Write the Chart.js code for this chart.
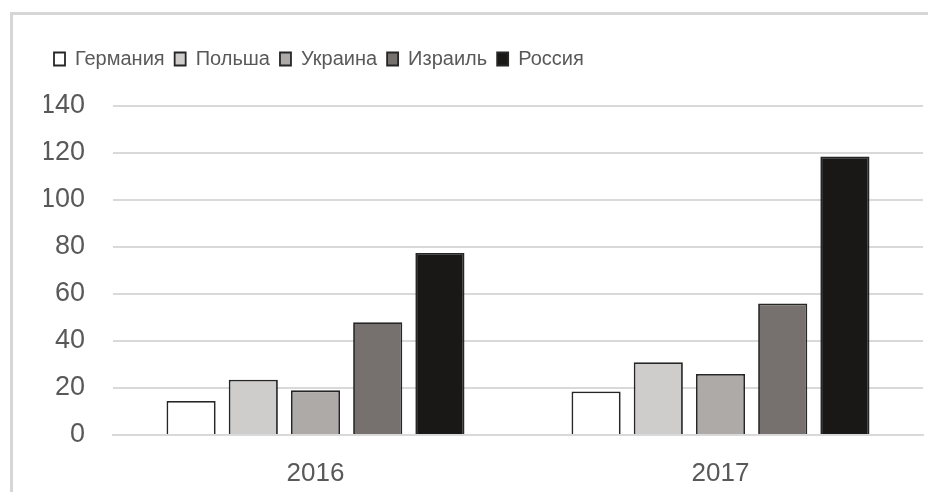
<!DOCTYPE html>
<html>
<head>
<meta charset="utf-8">
<script src="https://cdn.jsdelivr.net/npm/chart.js@4/dist/chart.umd.min.js"></script>
<style>
  html, body { margin: 0; padding: 0; background: #fff; }
  #wrap { position: relative; width: 928px; height: 492px; overflow: hidden; }
  #frame { position: absolute; left: 10px; top: 12px; width: 940px; height: 500px;
           border-left: 3px solid #d6d6d6; border-top: 3px solid #d6d6d6; box-sizing: border-box; }
  #cv { position: absolute; left: 0; top: 0; }
</style>
</head>
<body>
<div id="wrap">
  <div id="frame"></div>
  <canvas id="cv" width="928" height="492"></canvas>
</div>
<script>
/* ── DATA ── */
var years = ['2016', '2017'];
var countries = ['Германия', 'Польша', 'Украина', 'Израиль', 'Россия'];
var germany = [14.5, 18.5];
var poland = [23.5, 31];
var ukraine = [19, 26];
var israel = [48, 56];
var russia = [77.5, 118.5];
var yTicks = [0, 20, 40, 60, 80, 100, 120, 140];

var fills = ['#ffffff', '#cfcdcc', '#adaaa8', '#76706e', '#1a1717'];
var series = [germany, poland, ukraine, israel, russia];

var datasets = series.map(function (vals, i) {
  return {
    label: countries[i],
    data: vals,
    backgroundColor: fills[i],
    borderColor: '#262626',
    borderWidth: 1.8,
    borderSkipped: 'bottom',
    barPercentage: 0.79,
    categoryPercentage: 0.768
  };
});

// fixed legend height so the plot top lands at the 140 line of the reference
var legendSpace = {
  id: 'legendSpace',
  beforeInit: function (chart) {
    var fit = chart.legend.fit;
    chart.legend.fit = function () {
      fit.bind(chart.legend)();
      this.height = 67;
    };
  }
};

new Chart(document.getElementById('cv'), {
  type: 'bar',
  data: { labels: years, datasets: datasets },
  plugins: [legendSpace],
  options: {
    responsive: false,
    animation: false,
    devicePixelRatio: 1,
    layout: { padding: { top: 39, left: 44, right: 5, bottom: 0 } },
    plugins: {
      tooltip: { enabled: false },
      legend: {
        position: 'top',
        align: 'start',
        labels: {
          boxWidth: 11,
          boxHeight: 13,
          padding: 10,
          color: '#595959',
          font: { family: '"Liberation Sans", sans-serif', size: 20 }
        }
      }
    },
    scales: {
      x: {
        afterFit: function (axis) { axis.height = 57; },
        grid: { display: false },
        border: { display: true, color: '#d9d9d9', width: 2 },
        ticks: {
          color: '#595959',
          padding: 15,
          font: { family: '"Liberation Sans", sans-serif', size: 26 }
        }
      },
      y: {
        min: 0,
        max: 140,
        afterBuildTicks: function (axis) {
          axis.ticks = yTicks.map(function (v) { return { value: v }; });
        },
        afterFit: function (axis) { axis.width = 69; },
        grid: { color: '#d9d9d9', lineWidth: 2, drawTicks: false },
        border: { display: false },
        ticks: {
          color: '#595959',
          padding: 28,
          font: { family: '"Liberation Sans", sans-serif', size: 27 }
        }
      }
    }
  }
});
</script>
</body>
</html>
